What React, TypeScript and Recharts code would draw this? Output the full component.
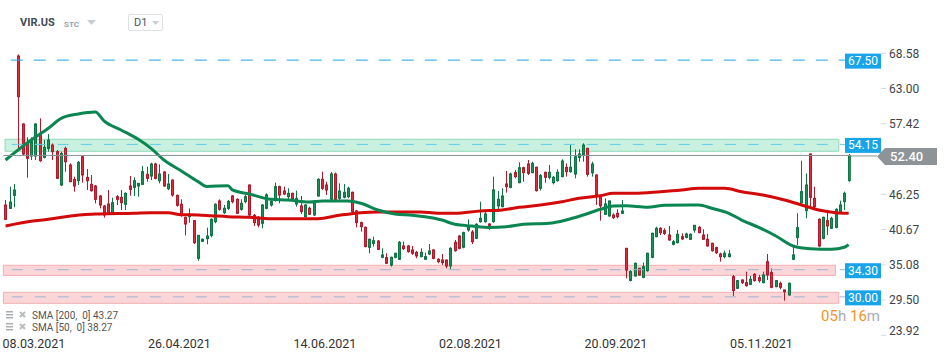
import React from 'react';
import { ComposedChart, Bar, Line, XAxis, YAxis, ReferenceLine, ReferenceArea } from 'recharts';

// x axis: label text and the bar index it sits on
const dateLabels = ['08.03.2021', '26.04.2021', '14.06.2021', '02.08.2021', '20.09.2021', '05.11.2021'];
const dateIndex = [0, 34, 68, 102, 136, 170];
const priceTicks = [68.58, 63.0, 57.42, 46.25, 40.67, 35.08, 29.5, 23.92];

// daily candles VIR.US, 08.03.2021 -> 15.12.2021
const opens = [
  44.55, 44.02, 46.08, 68.15, 57.38, 54.32, 52.31, 52.31, 55.9, 52.1,
  53.52, 54.05, 53.0, 47.72, 53.52, 50.88, 48.61, 48.4, 52.2, 48.93,
  47.82, 47.56, 45.97, 44.39, 44.71, 43.34, 45.87, 45.76, 44.66, 47.56,
  47.35, 47.56, 47.82, 49.41, 49.14, 51.04, 48.4, 49.78, 47.14, 48.5,
  46.08, 44.66, 42.6, 42.7, 42.07, 36.1, 38.79, 39.22, 39.74, 41.91,
  45.19, 43.34, 44.03, 45.98, 45.45, 43.87, 45.08, 47.72, 42.92, 42.6,
  41.65, 44.03, 44.55, 45.35, 47.46, 46.77, 45.87, 46.4, 44.71, 44.4,
  42.71, 44.03, 42.97, 45.98, 48.62, 47.72, 45.45, 49.46, 45.61, 45.77,
  45.87, 46.56, 43.6, 41.76, 41.02, 37.85, 38.48, 38.85, 36.27, 36.21,
  35.05, 36.27, 35.95, 38.06, 38.06, 37.43, 37.06, 36.37, 35.95, 36.79,
  37.43, 35.95, 35.84, 35.84, 34.89, 38.64, 39.64, 37.85, 40.59, 40.27,
  39.27, 41.91, 41.91, 41.54, 41.91, 44.4, 44.29, 47.88, 47.35, 49.68,
  48.09, 50.46, 51.04, 49.68, 50.52, 47.2, 49.73, 48.94, 48.09, 48.41,
  49.04, 50.52, 49.83, 49.46, 52.1, 52.47, 53.52, 49.67, 49.3, 45.98,
  43.07, 42.81, 42.97, 43.24, 43.24, 37.69, 32.6, 33.31, 34.52, 33.1,
  34.15, 36.27, 39.54, 40.86, 40.49, 39.8, 38.32, 38.58, 39.54, 39.43,
  39.12, 40.59, 41.02, 39.8, 39.12, 38.48, 37.8, 36.79, 36.37, 36.37,
  33.2, 31.36, 32.67, 32.25, 31.99, 33.57, 33.04, 32.25, 35.58, 33.84,
  31.62, 32.15, 31.09, 30.3, 35.95, 39.38, 44.92, 43.66, 52.63, 45.61,
  42.28, 39.27, 42.07, 40.86, 41.02, 43.34, 45.08, 48.41,
];
const highs = [
  45.34, 47.45, 47.88, 68.4, 57.5, 55.27, 55.27, 57.5, 58.28, 54.85,
  55.8, 54.3, 53.26, 53.0, 53.79, 51.15, 49.04, 51.52, 52.47, 50.25,
  49.3, 47.72, 46.13, 44.55, 46.92, 45.71, 46.13, 46.92, 46.55, 49.14,
  48.93, 48.0, 50.72, 50.62, 51.25, 51.25, 50.99, 49.9, 49.46, 48.6,
  46.2, 45.45, 42.7, 44.02, 42.17, 39.8, 39.27, 40.96, 42.44, 44.81,
  45.45, 44.55, 45.34, 46.13, 45.61, 45.45, 46.13, 47.8, 43.13, 42.81,
  44.71, 46.4, 45.61, 48.09, 47.62, 47.46, 47.2, 46.5, 46.83, 45.98,
  44.71, 44.29, 45.35, 48.78, 49.83, 48.25, 49.78, 49.68, 47.99, 47.88,
  47.46, 46.67, 43.76, 41.92, 41.12, 39.22, 39.54, 39.01, 37.69, 36.9,
  36.37, 37.0, 38.85, 38.75, 38.22, 38.06, 37.27, 37.69, 37.0, 38.37,
  37.53, 36.1, 36.79, 35.9, 37.85, 39.01, 39.8, 40.33, 42.28, 40.59,
  41.65, 45.08, 43.5, 41.65, 49.04, 46.77, 47.2, 49.94, 49.68, 50.1,
  51.31, 50.62, 51.68, 51.41, 50.62, 49.46, 49.83, 50.89, 49.14, 50.2,
  51.78, 51.15, 54.05, 53.37, 53.37, 54.32, 53.6, 51.41, 49.4, 46.05,
  45.61, 45.24, 43.24, 43.87, 45.35, 37.75, 34.25, 35.42, 34.6, 35.42,
  37.0, 40.17, 41.12, 41.02, 40.86, 41.23, 39.01, 40.59, 40.07, 40.17,
  40.07, 41.39, 41.23, 40.7, 39.96, 38.58, 37.96, 37.0, 37.32, 37.43,
  33.47, 32.67, 32.78, 33.99, 33.31, 33.73, 33.47, 33.99, 36.79, 34.52,
  32.67, 32.41, 31.15, 32.25, 37.96, 43.24, 51.57, 49.57, 52.7, 47.46,
  42.44, 42.7, 43.76, 42.7, 44.03, 45.24, 46.67, 52.63,
];
const lows = [
  42.17, 43.97, 44.18, 53.26, 52.3, 48.88, 51.68, 51.68, 51.4, 51.94,
  53.0, 51.68, 48.7, 47.56, 49.83, 48.2, 46.66, 47.72, 48.09, 46.92,
  46.66, 44.81, 44.02, 42.54, 42.97, 43.07, 44.55, 43.76, 43.76, 46.03,
  45.97, 45.87, 47.72, 48.24, 48.5, 48.61, 47.98, 47.45, 46.92, 45.87,
  44.29, 42.7, 39.74, 41.75, 38.37, 35.73, 38.69, 38.32, 39.43, 41.65,
  43.66, 43.13, 43.76, 44.82, 43.13, 43.66, 44.82, 42.81, 41.23, 41.02,
  40.86, 43.87, 44.29, 45.08, 44.82, 46.14, 45.19, 45.24, 44.29, 43.13,
  42.6, 42.97, 42.81, 45.87, 46.93, 46.14, 45.35, 45.35, 45.35, 45.61,
  45.61, 43.34, 41.02, 40.33, 37.85, 36.9, 37.96, 37.43, 36.11, 35.21,
  34.79, 36.11, 35.84, 37.43, 37.0, 36.64, 36.11, 36.27, 35.84, 36.63,
  35.95, 35.32, 35.05, 34.52, 34.36, 37.16, 37.53, 37.69, 40.33, 38.37,
  39.17, 41.75, 41.75, 40.59, 41.75, 43.5, 44.18, 46.51, 47.2, 48.78,
  47.99, 48.25, 49.3, 49.57, 46.67, 46.83, 48.09, 48.62, 47.82, 48.25,
  48.94, 49.04, 49.67, 48.78, 51.41, 51.41, 49.04, 49.04, 44.55, 42.07,
  42.97, 42.7, 42.33, 42.44, 43.13, 32.93, 32.45, 33.2, 33.37, 32.94,
  33.99, 36.11, 39.43, 39.8, 39.8, 38.9, 38.16, 38.48, 39.01, 39.27,
  39.01, 40.17, 40.07, 39.01, 37.96, 37.16, 36.79, 35.58, 36.11, 36.27,
  30.14, 31.25, 32.04, 31.62, 31.88, 32.41, 32.25, 32.15, 32.67, 31.36,
  31.51, 31.2, 29.4, 30.2, 35.84, 38.21, 44.55, 42.44, 44.29, 43.76,
  37.85, 39.12, 39.8, 40.75, 40.86, 43.13, 43.76, 48.25,
];
const closes = [
  42.28, 45.02, 46.92, 61.71, 52.63, 51.94, 54.58, 57.38, 51.57, 53.68,
  54.84, 53.0, 48.77, 52.73, 51.41, 48.24, 47.56, 51.31, 49.3, 48.4,
  46.82, 45.45, 44.55, 42.97, 43.23, 44.92, 45.45, 44.92, 46.4, 47.03,
  48.4, 47.98, 49.83, 48.77, 51.04, 48.77, 49.46, 47.56, 47.88, 46.13,
  44.5, 43.13, 41.54, 43.07, 38.58, 39.74, 39.11, 39.64, 42.28, 44.66,
  43.87, 44.03, 45.13, 45.08, 43.24, 44.82, 45.87, 42.97, 41.76, 41.39,
  44.55, 46.14, 45.08, 47.46, 46.14, 46.3, 46.4, 45.45, 45.61, 43.5,
  44.55, 43.08, 45.08, 48.62, 47.2, 46.93, 49.46, 45.45, 46.77, 46.56,
  47.2, 43.5, 41.76, 41.12, 37.96, 39.12, 38.9, 37.53, 36.64, 35.32,
  36.27, 36.9, 38.64, 37.64, 37.16, 36.9, 36.48, 37.06, 36.37, 37.27,
  36.1, 35.58, 35.42, 34.89, 37.69, 37.32, 37.69, 40.17, 41.12, 38.74,
  41.49, 42.44, 43.13, 41.02, 46.93, 45.45, 45.98, 47.46, 49.46, 49.04,
  50.46, 49.68, 49.57, 51.15, 46.83, 49.2, 48.94, 49.73, 48.94, 49.73,
  51.52, 49.83, 50.52, 52.2, 52.63, 54.05, 49.41, 51.04, 46.13, 44.4,
  44.71, 45.19, 42.54, 42.7, 43.6, 34.25, 34.0, 35.32, 33.47, 34.79,
  36.9, 40.07, 40.86, 40.17, 40.07, 39.01, 38.74, 39.91, 39.17, 39.96,
  39.91, 41.33, 40.17, 39.12, 38.06, 37.32, 37.0, 36.37, 36.9, 36.79,
  30.99, 32.57, 32.25, 31.78, 32.78, 32.57, 32.57, 33.47, 33.47, 31.51,
  32.57, 31.51, 30.83, 32.15, 36.64, 40.96, 46.67, 47.72, 45.77, 44.29,
  38.06, 42.6, 41.23, 42.44, 43.87, 44.55, 46.4, 52.4,
];

// moving averages at [bar index, value]
const sma50Points: [number, number][] = [
  [0, 51.68], [6, 54.85], [10, 56.7], [13, 58.28], [17, 58.97], [21, 59.28], [23, 57.86],
  [27, 56.43], [31, 54.96], [34, 53.53], [37, 51.68], [41, 49.98], [45, 48.25], [47, 47.5],
  [52, 47.6], [53, 46.93], [57, 46.29], [62, 45.45], [66, 45.34], [71, 45.02], [74, 45.18],
  [80, 45.18], [83, 44.82], [87, 43.76], [91, 43.13], [95, 42.92], [98, 42.7], [102, 42.17],
  [105, 41.49], [109, 41.22], [113, 41.0], [117, 41.1], [121, 41.49], [127, 41.65], [131, 42.17],
  [135, 42.97], [139, 43.87], [142, 44.39], [145, 44.44], [150, 44.18], [154, 44.5], [162, 44.55],
  [165, 44.03], [169, 43.24], [172, 42.17], [176, 41.0], [180, 39.64], [184, 38.06], [188, 37.63],
  [193, 37.53], [196, 37.85], [197, 38.27],
];
const sma200Points: [number, number][] = [
  [0, 41.22], [6, 41.97], [10, 42.28], [14, 42.7], [18, 43.01], [22, 43.13], [30, 43.24],
  [34, 43.34], [38, 43.34], [41, 43.01], [45, 42.97], [48, 42.86], [52, 42.7], [57, 42.6],
  [62, 42.38], [69, 42.38], [73, 42.38], [78, 42.92], [83, 43.34], [87, 43.44], [92, 43.44],
  [97, 43.45], [101, 43.24], [105, 43.24], [111, 43.6], [116, 43.76], [120, 44.18], [125, 44.55],
  [130, 45.08], [134, 45.61], [139, 46.03], [142, 46.4], [147, 46.4], [153, 46.66], [158, 46.93],
  [162, 47.2], [168, 47.2], [172, 46.66], [177, 46.13], [182, 45.34], [186, 44.55], [190, 43.76],
  [194, 43.34], [197, 43.24],
];

const sma50Map = new Map(sma50Points);
const sma200Map = new Map(sma200Points);

const chartData = opens.map((open, i) => ({
  i,
  open,
  high: highs[i],
  low: lows[i],
  close: closes[i],
  sma50: sma50Map.get(i) ?? null,
  sma200: sma200Map.get(i) ?? null,
}));

const FONT = 'Roboto, "Open Sans", sans-serif';
const TAG_BLUE = '#18a4e8';

const Candle = (props: any) => {
  const { x, y, width, height, payload } = props;
  if (!payload || x == null || y == null) return null;
  const { open, close, high, low } = payload;
  const top = Math.min(y, y + height);
  const h = Math.abs(height);
  const ratio = h / (high - low || 1);
  const yOf = (v: number) => top + (high - v) * ratio;
  const up = close >= open;
  const cx = Math.floor(x + width / 2) + 0.5;
  const bodyTop = yOf(Math.max(open, close));
  const bodyH = Math.max(1, Math.abs(yOf(open) - yOf(close)));
  const fill = up ? '#17935a' : '#df2a3d';
  const edge = up ? '#0d7443' : '#b4192b';
  return (
    <g>
      <line x1={cx} x2={cx} y1={top} y2={top + h} stroke={edge} strokeWidth={1} />
      <rect x={cx - 1} y={bodyTop} width={2} height={bodyH} fill={fill} stroke={edge} strokeWidth={1} />
    </g>
  );
};

const PriceTick = ({ y, payload }: any) => {
  const bottom = payload.value === 23.92;
  return (
    <g>
      <line x1={881} x2={886} y1={y} y2={y} stroke="#d5d9dc" />
      <text x={889} y={bottom ? y - 5 : y} dy={4.3} fill="#3d4449" fontSize={12} fontFamily={FONT}>
        {payload.value.toFixed(2)}
      </text>
    </g>
  );
};

const DateTick = ({ x, payload }: any) => {
  const k = dateIndex.indexOf(payload.value);
  if (k < 0) return null;
  return (
    <text x={x - 3} y={347.8} fill="#333" fontSize={12.5} fontFamily={FONT}>
      {dateLabels[k]}
    </text>
  );
};

const BlueTag = (value: string) => (props: any) => {
  const vb = props.viewBox || {};
  const y = vb.y ?? 0;
  return (
    <g>
      <rect x={845} y={y - 6.5} width={36} height={15} fill={TAG_BLUE} />
      <text x={863} y={y + 5} textAnchor="middle" fill="#fff" fontSize={12} fontFamily={FONT}>
        {value}
      </text>
    </g>
  );
};

const LastPriceTag = (props: any) => {
  const vb = props.viewBox || {};
  const y = vb.y ?? 0;
  const right = (vb.x ?? 0) + (vb.width ?? 0);
  return (
    <g>
      <line x1={right} x2={877} y1={y + 0.5} y2={y + 0.5} stroke="#8a9296" />
      <path d={`M877 ${y + 1} L885 ${y - 7.5} L937 ${y - 7.5} L937 ${y + 9.5} L885 ${y + 9.5} Z`} fill="#8d9397" />
      <text x={890} y={y + 6} fill="#fff" fontSize={13} fontWeight={500} fontFamily={FONT}>
        52.40
      </text>
    </g>
  );
};

function LegendRow({ label, top }: { label: string; top: number }) {
  return (
    <div style={{ position: 'absolute', left: 5, top, display: 'flex', alignItems: 'center', height: 12 }}>
      <svg width={26} height={10}>
        <rect x={1} y={1} width={7} height={1.5} fill="#a9adb0" />
        <rect x={1} y={4} width={7} height={1.5} fill="#a9adb0" />
        <rect x={1} y={7} width={7} height={1.5} fill="#a9adb0" />
        <path d="M15 2 L20 7 M20 2 L15 7" stroke="#b9bdc0" strokeWidth={2} />
      </svg>
      <span style={{ fontSize: 10, color: '#555', marginLeft: 1, whiteSpace: 'pre' }}>{label}</span>
    </div>
  );
}

export default function App() {
  return (
    <div
      style={{
        position: 'absolute',
        left: 0,
        top: 0,
        width: 950,
        height: 361,
        background: '#fff',
        overflow: 'hidden',
        fontFamily: FONT,
      }}
    >
      <ComposedChart
        width={950}
        height={361}
        data={chartData}
        margin={{ top: 40, right: 0, bottom: 0, left: 3.4 }}
      >
        <XAxis
          dataKey="i"
          type="number"
          domain={[-0.5, 197.5]}
          ticks={dateIndex}
          tick={<DateTick />}
          axisLine={false}
          tickLine={false}
          height={25}
          allowDataOverflow
        />
        <YAxis
          orientation="right"
          type="number"
          domain={[23.8, 70.687]}
          ticks={priceTicks}
          tick={<PriceTick />}
          axisLine={false}
          tickLine={false}
          width={99.2}
          allowDataOverflow
        />
        <Bar
          dataKey={(d: any) => [d.low, d.high]}
          shape={<Candle />}
          barSize={3}
          isAnimationActive={false}
        />
        <Line
          dataKey="sma200"
          type="monotone"
          stroke="#d20a0a"
          strokeWidth={3}
          dot={false}
          activeDot={false}
          connectNulls
          isAnimationActive={false}
        />
        <Line
          dataKey="sma50"
          type="monotone"
          stroke="#0b8652"
          strokeWidth={3}
          dot={false}
          activeDot={false}
          connectNulls
          isAnimationActive={false}
        />
        <ReferenceArea y1={53.06} y2={54.96} x1={-0.1} x2={194.7} fill="#3fcc8f" fillOpacity={0.28} stroke="#8fd8b9" strokeWidth={1} />
        <ReferenceArea y1={33.4} y2={35.0} x2={193.9} fill="#f06a78" fillOpacity={0.28} stroke="#f2aeb4" strokeWidth={1} />
        <ReferenceArea y1={28.98} y2={30.72} x2={194.7} fill="#f06a78" fillOpacity={0.28} stroke="#f2aeb4" strokeWidth={1} />
        <ReferenceLine y={67.5} stroke={TAG_BLUE} strokeDasharray="12 11" label={BlueTag('67.50')} />
        <ReferenceLine y={54.15} stroke="#62cbe8" strokeDasharray="11 12" label={BlueTag('54.15')} />
        <ReferenceLine y={34.3} stroke="#9db4d2" strokeDasharray="11 12" label={BlueTag('34.30')} />
        <ReferenceLine y={30.0} stroke="#9db4d2" strokeDasharray="11 12" label={BlueTag('30.00')} />
        <ReferenceLine y={52.4} stroke="#8a9296" label={LastPriceTag} />
      </ComposedChart>

      {/* header */}
      <div style={{ position: 'absolute', left: 20, top: 16, fontSize: 11, fontWeight: 700, color: '#3f4b56' }}>VIR.US</div>
      <div style={{ position: 'absolute', left: 64, top: 20, fontSize: 8, fontWeight: 700, color: '#93a2ad' }}>STC</div>
      <svg style={{ position: 'absolute', left: 87, top: 20 }} width={9} height={5}>
        <path d="M0 0 L9 0 L4.5 5 Z" fill="#c9ced2" />
      </svg>
      <div
        style={{
          position: 'absolute',
          left: 128,
          top: 14,
          width: 33,
          height: 15,
          border: '1px solid #dde1e4',
          borderRadius: 2,
        }}
      >
        <span style={{ position: 'absolute', left: 5, top: 1, fontSize: 11, color: '#4a5560' }}>D1</span>
        <svg style={{ position: 'absolute', left: 23, top: 6 }} width={7} height={4}>
          <path d="M0 0 L7 0 L3.5 4 Z" fill="#c9ced2" />
        </svg>
      </div>

      {/* indicators */}
      <LegendRow label="SMA [200,  0] 43.27" top={309} />
      <LegendRow label="SMA [50,  0] 38.27" top={321} />

      {/* candle countdown */}
      <div style={{ position: 'absolute', right: 70, top: 307, fontSize: 15, whiteSpace: 'pre' }}>
        <span style={{ color: '#f7931e' }}>05</span>
        <span style={{ color: '#a7adb2' }}>h </span>
        <span style={{ color: '#f7931e' }}>16</span>
        <span style={{ color: '#a7adb2' }}>m</span>
      </div>
    </div>
  );
}
